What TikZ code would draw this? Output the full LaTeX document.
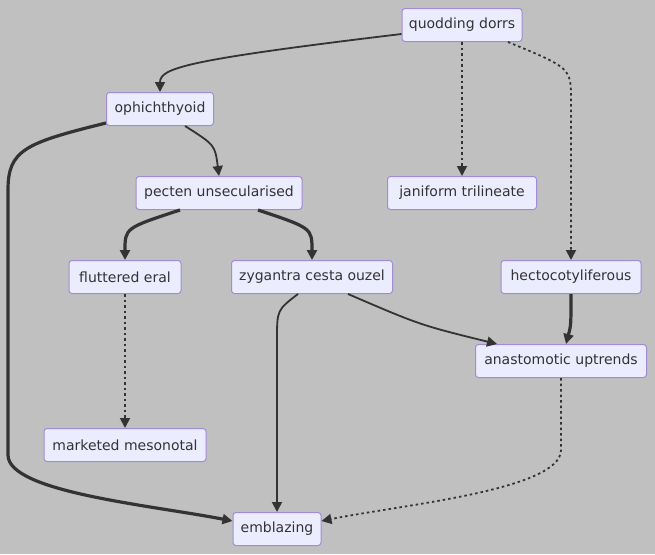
\documentclass[tikz,border=0pt]{standalone}
\usepackage{fontspec}
\setmainfont{DejaVu Sans}
\usetikzlibrary{arrows.meta}
\definecolor{bgc}{HTML}{C0C0C0}
\definecolor{nfill}{HTML}{ECECFF}
\definecolor{nborder}{HTML}{A08CD6}
\definecolor{ink}{HTML}{333333}
\begin{document}
\begin{tikzpicture}[x=1pt,y=-1pt,
  box/.style={draw=nborder,fill=nfill,rounded corners=3pt,line width=1pt,minimum height=33pt,inner xsep=0pt,text=ink,font=\fontsize{14}{16}\selectfont},
  edge/.style={draw=ink,line width=1.8pt,-{Triangle[length=10pt,width=10pt]}},
  thickedge/.style={edge,line width=3.2pt},
  dotedge/.style={edge,dash pattern=on 2.5pt off 3pt}]
\useasboundingbox[fill=bgc] (0,0) rectangle (655,554);
\node[box,minimum width=120pt] (q) at (462,25) {quodding dorrs};
\node[box,minimum width=107pt] (o) at (160,109) {ophichthyoid};
\node[box,minimum width=166pt] (p) at (219,193) {pecten unsecularised};
\node[box,minimum width=149pt] (j) at (462,193) {janiform trilineate};
\node[box,minimum width=112pt] (f) at (125,277) {fluttered eral};
\node[box,minimum width=161pt] (z) at (312,277) {zygantra cesta ouzel};
\node[box,minimum width=140pt] (h) at (571,277) {hectocotyliferous};
\node[box,minimum width=171pt] (a) at (561,361) {anastomotic uptrends};
\node[box,minimum width=162pt] (m) at (125,445) {marketed mesonotal};
\node[box,minimum width=88pt] (e) at (277,529) {emblazing};
% edges
\draw[edge] ([yshift=-9pt]q.west) .. controls (185,60) and (160,68) .. (o.north);
\draw[dotedge] (q.south) -- (j.north);
\draw[dotedge] ([xshift=46pt]q.south) .. controls (571,68) .. (571,100) -- (h.north);
\draw[edge] ([xshift=25pt]o.south) .. controls (215,145) .. (p.north);
\draw[thickedge] ([yshift=-14pt]o.west) .. controls (25,143) and (8,150) .. (8,190) -- (8,455) .. controls (8,492) and (150,505) .. ([yshift=8pt]e.west);
\draw[thickedge] ([xshift=-39pt]p.south) .. controls (125,228) .. (f.north);
\draw[thickedge] ([xshift=39pt]p.south) .. controls (312,228) .. (z.north);
\draw[dotedge] (f.south) -- (m.north);
\draw[edge] ([xshift=-14pt]z.south) .. controls (277,310) .. (277,340) -- (e.north);
\draw[edge] ([xshift=36pt]z.south) .. controls (420,325) .. ([xshift=-64pt]a.north);
\draw[thickedge] (h.south) .. controls (571,325) .. ([xshift=5pt]a.north);
\draw[dotedge] (a.south) -- (561,450) .. controls (561,490) and (400,505) .. ([yshift=8pt]e.east);
\end{tikzpicture}
\end{document}
